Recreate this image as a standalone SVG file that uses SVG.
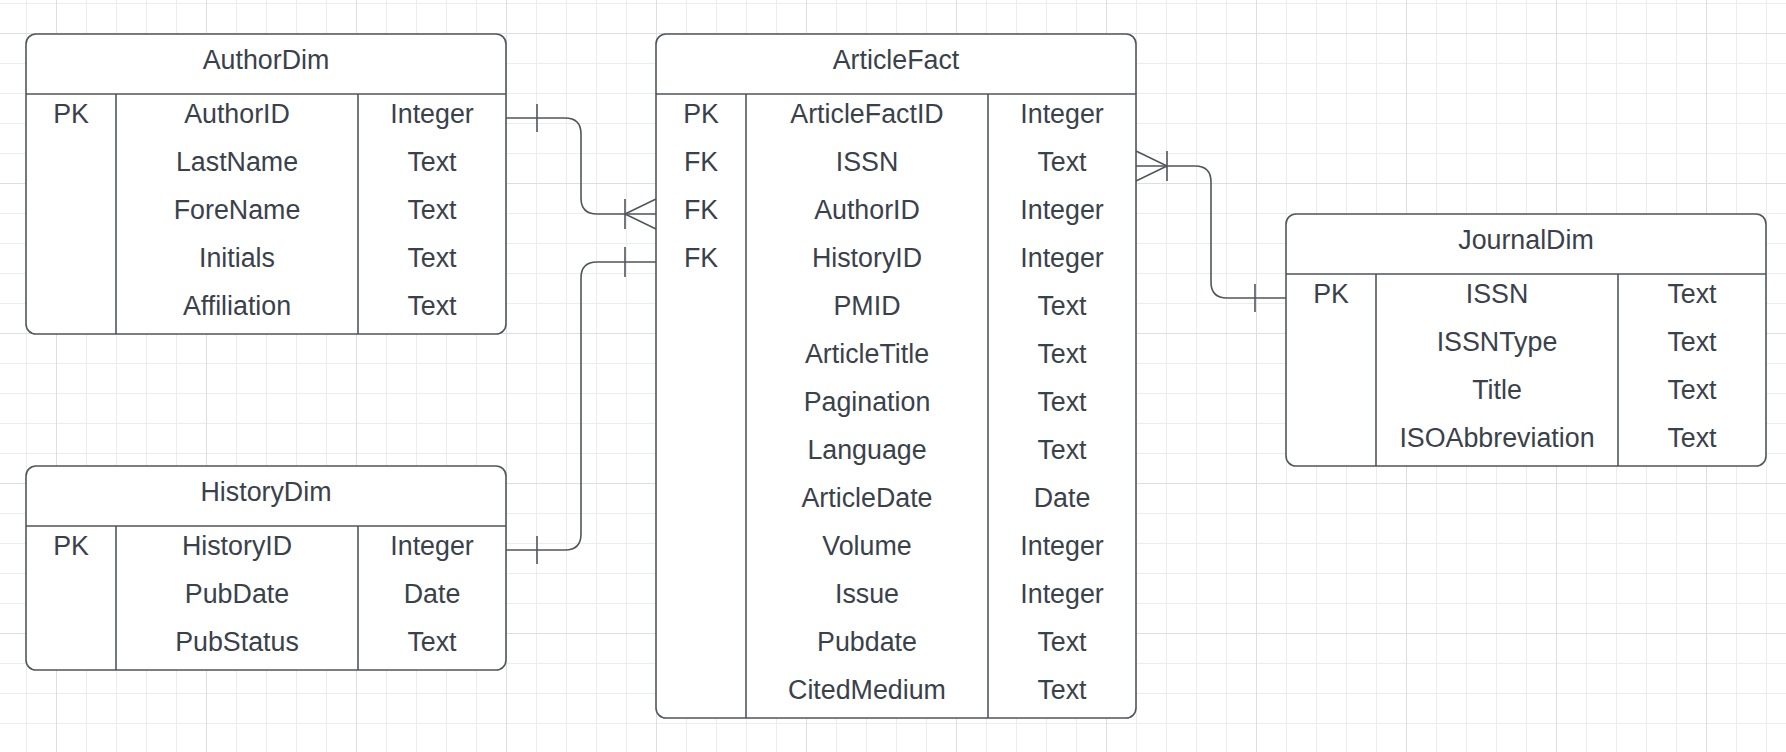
<svg xmlns="http://www.w3.org/2000/svg" width="1786" height="752" viewBox="0 0 1786 752">
<defs>
<pattern id="gMinor" patternUnits="userSpaceOnUse" x="26" y="3" width="30" height="30">
<path d="M0.5,0 V30 M0,0.5 H30" stroke="#ececec" stroke-width="1" fill="none"/>
</pattern>
<pattern id="gMajor" patternUnits="userSpaceOnUse" x="56" y="33" width="150" height="150">
<path d="M0.5,0 V150 M0,0.5 H150" stroke="#dedede" stroke-width="1" fill="none"/>
</pattern>
</defs>
<style>
.box{fill:#ffffff;stroke:#50565e;stroke-width:1.6}
.ln{fill:none;stroke:#50565e;stroke-width:1.6}
.t{font-family:"Liberation Sans",Arial,sans-serif;font-size:26.8px;fill:#3a414a;text-anchor:middle}
</style>
<rect width="1786" height="752" fill="#ffffff"/>
<rect width="1786" height="752" fill="url(#gMinor)"/>
<rect width="1786" height="752" fill="url(#gMajor)"/>

<g id="connectors">
<path class="ln" d="M506,118 H565 Q581,118 581,134 V198 Q581,214 597,214 H656"/>
<path class="ln" d="M537,104 V132 M625,199 V229 M656,199 L625,214 L656,229"/>
<path class="ln" d="M506,550 H565 Q581,550 581,534 V278 Q581,262 597,262 H656"/>
<path class="ln" d="M537,536 V564 M625,247 V277"/>
<path class="ln" d="M1136,166 H1195 Q1211,166 1211,182 V282 Q1211,298 1227,298 H1286"/>
<path class="ln" d="M1167,151 V181 M1136,151 L1167,166 L1136,181 M1255,284 V312"/>
</g>

<g id="AuthorDim">
<rect class="box" x="26" y="34" width="480" height="300" rx="10"/>
<path class="ln" d="M26,94 H506 M116,94 V334 M358,94 V334"/>
<text class="t" x="266" y="69">AuthorDim</text>
<text class="t" x="71" y="123">PK</text>
<text class="t" x="237" y="123">AuthorID</text>
<text class="t" x="432" y="123">Integer</text>
<text class="t" x="237" y="171">LastName</text>
<text class="t" x="432" y="171">Text</text>
<text class="t" x="237" y="219">ForeName</text>
<text class="t" x="432" y="219">Text</text>
<text class="t" x="237" y="267">Initials</text>
<text class="t" x="432" y="267">Text</text>
<text class="t" x="237" y="315">Affiliation</text>
<text class="t" x="432" y="315">Text</text>
</g>

<g id="HistoryDim">
<rect class="box" x="26" y="466" width="480" height="204" rx="10"/>
<path class="ln" d="M26,526 H506 M116,526 V670 M358,526 V670"/>
<text class="t" x="266" y="501">HistoryDim</text>
<text class="t" x="71" y="555">PK</text>
<text class="t" x="237" y="555">HistoryID</text>
<text class="t" x="432" y="555">Integer</text>
<text class="t" x="237" y="603">PubDate</text>
<text class="t" x="432" y="603">Date</text>
<text class="t" x="237" y="651">PubStatus</text>
<text class="t" x="432" y="651">Text</text>
</g>

<g id="ArticleFact">
<rect class="box" x="656" y="34" width="480" height="684" rx="10"/>
<path class="ln" d="M656,94 H1136 M746,94 V718 M988,94 V718"/>
<text class="t" x="896" y="69">ArticleFact</text>
<text class="t" x="701" y="123">PK</text>
<text class="t" x="867" y="123">ArticleFactID</text>
<text class="t" x="1062" y="123">Integer</text>
<text class="t" x="701" y="171">FK</text>
<text class="t" x="867" y="171">ISSN</text>
<text class="t" x="1062" y="171">Text</text>
<text class="t" x="701" y="219">FK</text>
<text class="t" x="867" y="219">AuthorID</text>
<text class="t" x="1062" y="219">Integer</text>
<text class="t" x="701" y="267">FK</text>
<text class="t" x="867" y="267">HistoryID</text>
<text class="t" x="1062" y="267">Integer</text>
<text class="t" x="867" y="315">PMID</text>
<text class="t" x="1062" y="315">Text</text>
<text class="t" x="867" y="363">ArticleTitle</text>
<text class="t" x="1062" y="363">Text</text>
<text class="t" x="867" y="411">Pagination</text>
<text class="t" x="1062" y="411">Text</text>
<text class="t" x="867" y="459">Language</text>
<text class="t" x="1062" y="459">Text</text>
<text class="t" x="867" y="507">ArticleDate</text>
<text class="t" x="1062" y="507">Date</text>
<text class="t" x="867" y="555">Volume</text>
<text class="t" x="1062" y="555">Integer</text>
<text class="t" x="867" y="603">Issue</text>
<text class="t" x="1062" y="603">Integer</text>
<text class="t" x="867" y="651">Pubdate</text>
<text class="t" x="1062" y="651">Text</text>
<text class="t" x="867" y="699">CitedMedium</text>
<text class="t" x="1062" y="699">Text</text>
</g>

<g id="JournalDim">
<rect class="box" x="1286" y="214" width="480" height="252" rx="10"/>
<path class="ln" d="M1286,274 H1766 M1376,274 V466 M1618,274 V466"/>
<text class="t" x="1526" y="249">JournalDim</text>
<text class="t" x="1331" y="303">PK</text>
<text class="t" x="1497" y="303">ISSN</text>
<text class="t" x="1692" y="303">Text</text>
<text class="t" x="1497" y="351">ISSNType</text>
<text class="t" x="1692" y="351">Text</text>
<text class="t" x="1497" y="399">Title</text>
<text class="t" x="1692" y="399">Text</text>
<text class="t" x="1497" y="447">ISOAbbreviation</text>
<text class="t" x="1692" y="447">Text</text>
</g>
</svg>
